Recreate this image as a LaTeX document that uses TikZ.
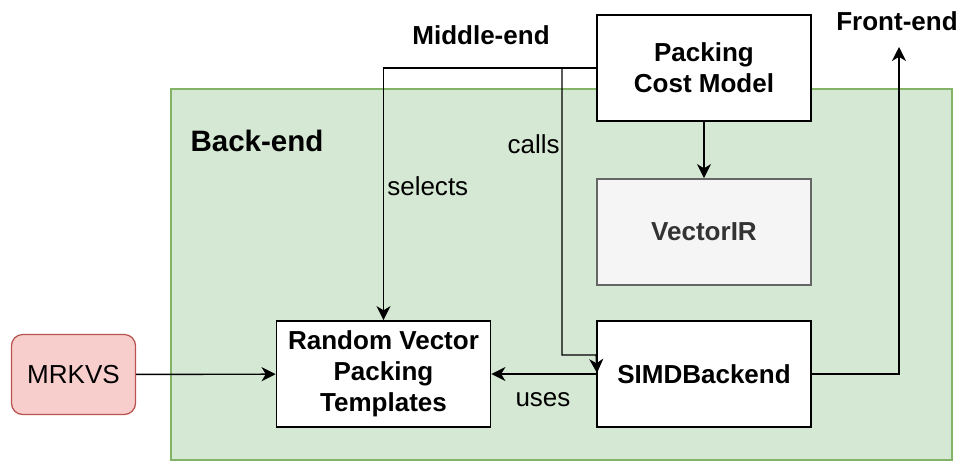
\documentclass[tikz,border=0pt]{standalone}
\usepackage{fontspec}
\setmainfont{Liberation Sans}
\usepackage{tikz}
\usetikzlibrary{positioning,calc,arrows.meta}
\usepackage{xcolor}
\definecolor{bkfill}{HTML}{D5E8D4}
\definecolor{bkline}{HTML}{82B366}
\definecolor{irfill}{HTML}{F5F5F5}
\definecolor{irline}{HTML}{666666}
\definecolor{irtext}{HTML}{333333}
\definecolor{mkfill}{HTML}{F8CECC}
\definecolor{mkline}{HTML}{B85450}

\begin{document}
\begin{tikzpicture}[x=0.025cm,y=-0.025cm,
    box/.style={rectangle,draw,line width=1.2pt,fill=white,minimum width=5.35cm,minimum height=2.65cm,inner sep=0pt,align=center,font=\bfseries\fontsize{18.5}{22}\selectfont},
    irbox/.style={box,draw=irline,fill=irfill,text=irtext},
    input/.style={rectangle,rounded corners=8pt,draw=mkline,fill=mkfill,line width=0.9pt,minimum width=3.1cm,minimum height=2.0cm,inner sep=0pt,font=\fontsize{18.5}{22}\selectfont},
    tag/.style={inner sep=0pt,font=\fontsize{18.5}{22}\selectfont},
    stage/.style={inner sep=0pt,font=\bfseries\fontsize{18.5}{22}\selectfont},
    link/.style={-{Stealth[length=10pt,width=10pt,inset=3pt]},line width=1pt}]

\useasboundingbox (0,0) rectangle (963,462);

% back-end area
\fill[bkfill,draw=bkline,line width=0.9pt] (171,89) rectangle (952,460);
\node[stage,font=\bfseries\fontsize{21}{24}\selectfont] (backend) at (257,141) {Back-end};

\node[box] (cost) at (704,68) {Packing\\Cost Model};
\node[irbox] (vir) at (704,232) {VectorIR};
\node[box] (simd) at (704,374) {SIMDBackend};
\node[box] (rvpt) at (383.5,374) {Random Vector\\Packing\\Templates};
\node[input] (mrkvs) at (73.5,374.5) {MRKVS};

\node[stage] (middle) at (481,35) {Middle-end};
\node[stage] (front) at (897,21) {Front-end};

\coordinate (callsbend) at (562,355);
\coordinate (callsend) at (597,373);
\coordinate (fronttip) at (899,47);

\draw[link] (mrkvs) -- (rvpt);
\draw[link] (simd.west) -- (rvpt.east);
\draw[link] (cost) -- (vir);
\draw[link] (cost.west) -| (rvpt.north);
\draw[link] (cost.west) -| (callsbend) -- (callsbend -| simd.west) -- (callsend);
\draw[link] (simd.east) -| (fronttip);

\node[tag,anchor=west] (selects) at (387,186) {selects};
\node[tag,anchor=east] (calls) at (560,144) {calls};
\node[tag] (uses) at (543,400) {uses};
\end{tikzpicture}
\end{document}
